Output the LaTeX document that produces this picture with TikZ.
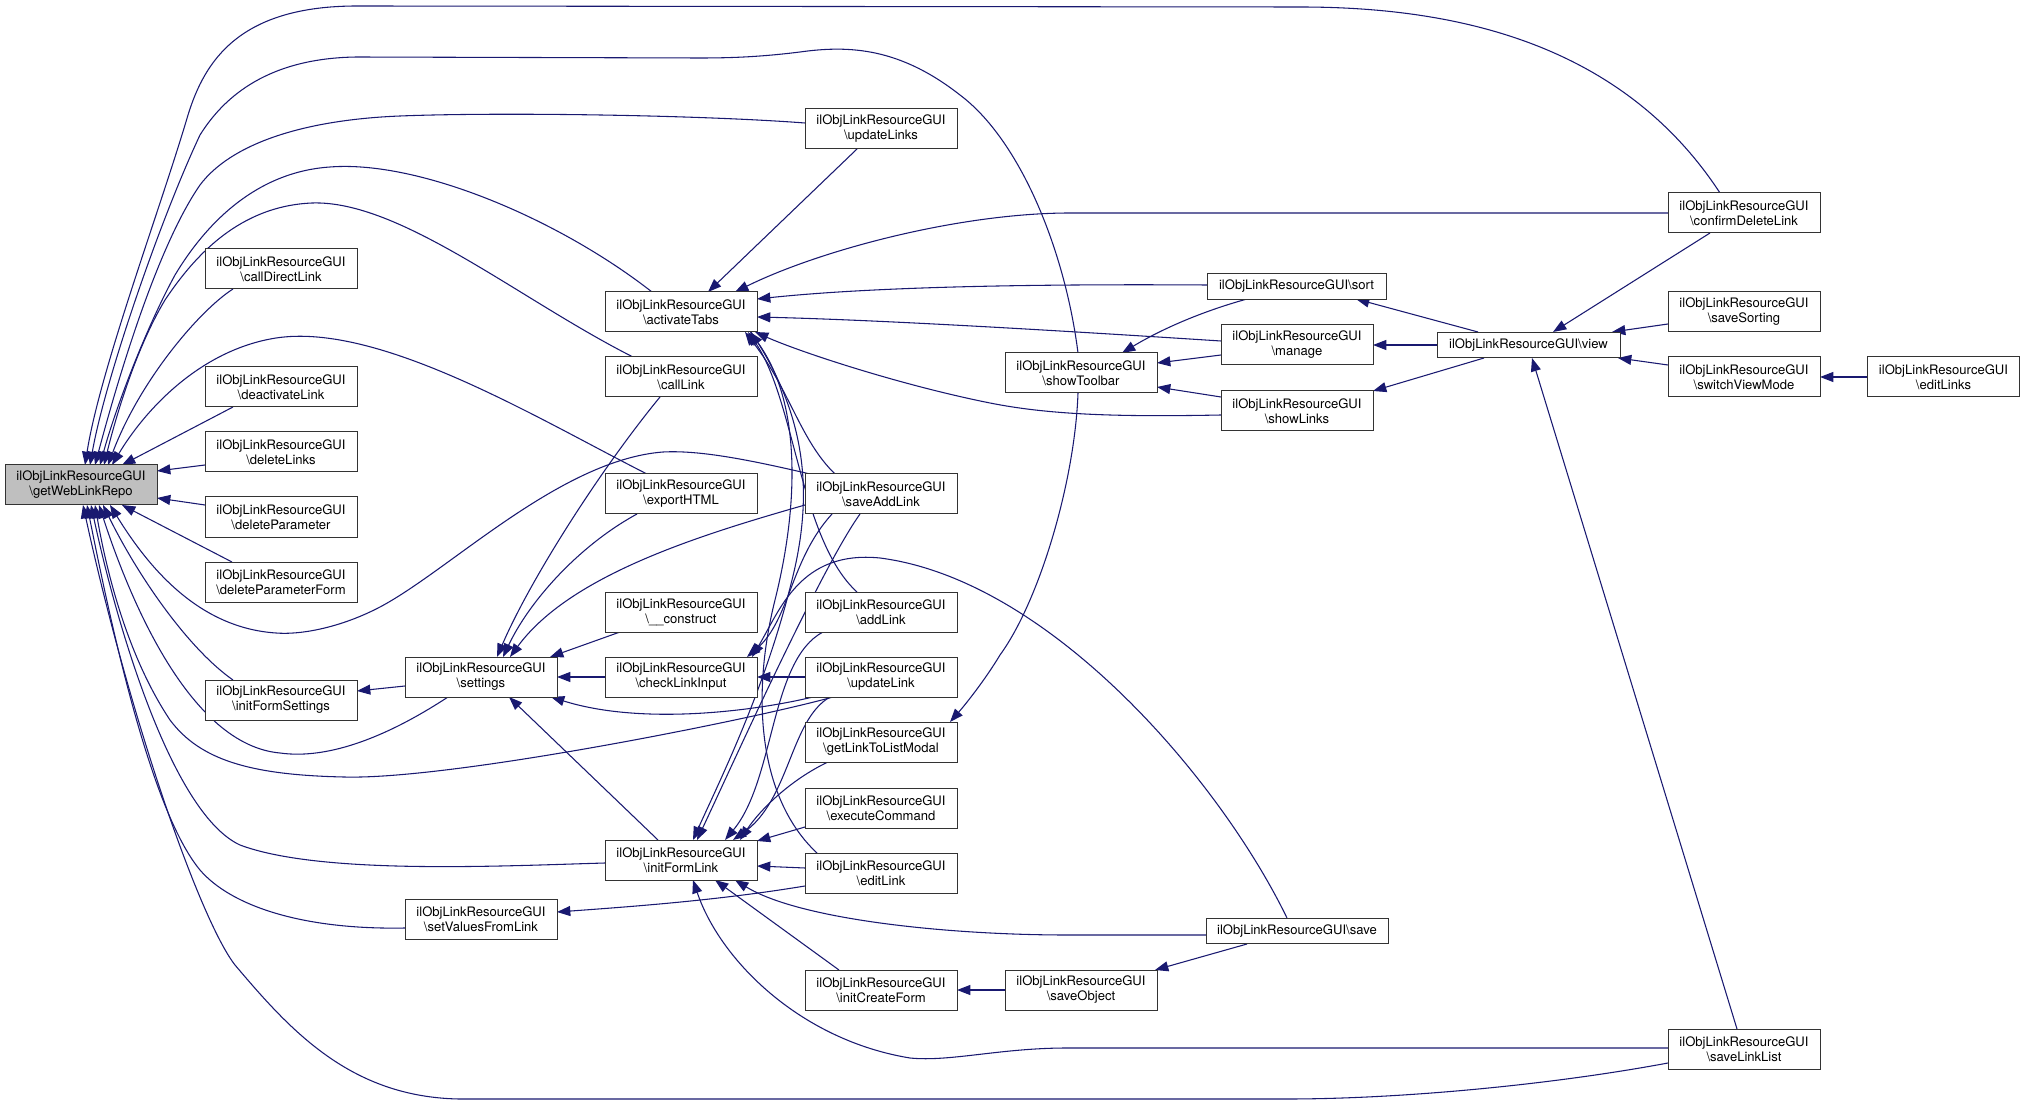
\documentclass[tikz,border=0pt]{standalone}
\usepackage{fontspec}
\setmainfont{TeX Gyre Heros}
\usetikzlibrary{arrows.meta,calc}
\definecolor{navy}{HTML}{191970}
\definecolor{boxgray}{HTML}{BFBFBF}
\pgfdeclarelayer{bg}
\pgfsetlayers{bg,main}
\tikzset{
  box/.style={draw=black!80, fill=white, line width=0.75pt, minimum width=114pt, minimum height=30pt,
    inner sep=0pt, align=center, font=\fontsize{9.8pt}{11.25pt}\selectfont},
  onebox/.style={box, minimum height=19pt},
  conn/.style={draw=navy, line width=0.8pt, -{Triangle[length=10pt,width=7.5pt]}},
  plain/.style={draw=navy, line width=0.8pt}
}
\newcommand{\fn}[1]{ilObjLinkResourceGUI\\\textbackslash #1}
\begin{document}
\begin{tikzpicture}[x=0.75pt,y=-0.75pt]
\useasboundingbox (0,0) rectangle (2025,1105);
% nodes
\node[box, fill=boxgray] (gwr) at (81,485) {\fn{getWebLinkRepo}};
\node[box] (cdirect) at (281,269) {\fn{callDirectLink}};
\node[box] (deact) at (281,387) {\fn{deactivateLink}};
\node[box] (dlinks) at (281,452) {\fn{deleteLinks}};
\node[box] (dparam) at (281,517) {\fn{deleteParameter}};
\node[box] (dpform) at (281,582) {\fn{deleteParameterForm}};
\node[box] (ifs) at (281,700) {\fn{initFormSettings}};
\node[box] (settings) at (481,677) {\fn{settings}};
\node[box] (svfl) at (481,919) {\fn{setValuesFromLink}};
\node[box] (act) at (681,312) {\fn{activateTabs}};
\node[box] (calll) at (681,377) {\fn{callLink}};
\node[box] (export) at (681,494) {\fn{exportHTML}};
\node[box] (construct) at (681,612) {\fn{\_\_construct}};
\node[box] (cli) at (681,677) {\fn{checkLinkInput}};
\node[box] (ifl) at (681,860) {\fn{initFormLink}};
\node[box] (upls) at (881,129) {\fn{updateLinks}};
\node[box] (sal) at (881,494) {\fn{saveAddLink}};
\node[box] (addl) at (881,612) {\fn{addLink}};
\node[box] (upl) at (881,677) {\fn{updateLink}};
\node[box] (gltlm) at (881,742) {\fn{getLinkToListModal}};
\node[box] (exec) at (881,808) {\fn{executeCommand}};
\node[box] (editl) at (881,873) {\fn{editLink}};
\node[box] (icf) at (881,990) {\fn{initCreateForm}};
\node[box] (stb) at (1081,373) {\fn{showToolbar}};
\node[box] (sobj) at (1081,990) {\fn{saveObject}};
\node[onebox, minimum width=134.25pt] (sort) at (1296.5,286.5) {ilObjLinkResourceGUI\textbackslash sort};
\node[box] (manage) at (1297,345) {\fn{manage}};
\node[box] (showl) at (1297,411) {\fn{showLinks}};
\node[onebox, minimum width=136.5pt] (save) at (1297,931) {ilObjLinkResourceGUI\textbackslash save};
\node[onebox, minimum width=137.25pt] (view) at (1528.5,345) {ilObjLinkResourceGUI\textbackslash view};
\node[box] (cdl) at (1744,213) {\fn{confirmDeleteLink}};
\node[box] (ssort) at (1744,312) {\fn{saveSorting}};
\node[box] (svm) at (1744,377) {\fn{switchViewMode}};
\node[box] (sll) at (1744,1049) {\fn{saveLinkList}};
\node[box] (editls) at (1943.5,377) {\fn{editLinks}};

\begin{pgfonlayer}{bg}
% into getWebLinkRepo
\draw[conn] ($(cdl)+(-24,-20)$) .. controls (1620,40) and (1450,7) .. (1300,7) -- (357,6)
  .. controls (240,6) and (205,60) .. (188,115) .. controls (160,210) and (100,370) .. ($(gwr)+(4,-20)$);
\draw[conn] ($(stb)+(-3,-20)$) .. controls (1065,250) and (1020,140) .. (960,95)
  .. controls (900,48) and (850,45) .. (800,52) .. controls (760,57) and (730,58) .. (700,58) -- (357,57)
  .. controls (270,58) and (225,95) .. (200,135) .. controls (160,220) and (105,380) .. ($(gwr)+(9,-20)$);
\draw[conn] ($(upls)+(-76,-6)$) .. controls (700,115) and (500,112) .. (400,116)
  .. controls (300,120) and (230,145) .. (200,185) .. controls (155,250) and (115,390) .. ($(gwr)+(14,-20)$);
\draw[conn] ($(act)+(-29,-20)$) .. controls (560,220) and (420,160) .. (330,167)
  .. controls (255,172) and (205,225) .. (175,275) .. controls (145,330) and (115,410) .. ($(gwr)+(19,-20)$);
\draw[conn] ($(calll)+(-48,-20)$) .. controls (520,300) and (400,200) .. (312,203)
  .. controls (240,206) and (195,255) .. (165,300) .. controls (135,350) and (115,420) .. ($(gwr)+(23,-20)$);
\draw[conn] ($(cdirect)+(-48,20)$) .. controls (200,310) and (140,380) .. ($(gwr)+(27,-20)$);
\draw[conn] ($(export)+(-34,-20)$) .. controls (540,420) and (380,322) .. (276,338)
  .. controls (200,350) and (145,410) .. ($(gwr)+(31,-20)$);
\draw[conn] ($(deact)+(-48,20)$) -- ($(gwr)+(41,-20)$);
\draw[conn] ($(dlinks)+(-76,13)$) -- ($(gwr)+(76,-14)$);
\draw[conn] ($(dparam)+(-76,-12)$) -- ($(gwr)+(76,13)$);
\draw[conn] ($(dpform)+(-49,-20)$) -- ($(gwr)+(41,20)$);
\draw[conn] ($(ifs)+(-48,-20)$) .. controls (190,650) and (140,580) .. ($(gwr)+(22,20)$);
\draw[conn] ($(settings)+(-33,20)$) .. controls (390,735) and (330,760) .. (280,753)
  .. controls (190,745) and (130,600) .. ($(gwr)+(18,20)$);
\draw[conn] ($(upl)+(-48,20)$) .. controls (750,720) and (450,780) .. (344,777)
  .. controls (250,775) and (200,760) .. (170,720) .. controls (130,660) and (108,580) .. ($(gwr)+(14,20)$);
\draw[conn] ($(ifl)+(-76,3)$) .. controls (500,866) and (320,875) .. (240,845)
  .. controls (175,815) and (120,640) .. ($(gwr)+(10,20)$);
\draw[conn] ($(svfl)+(-76,9)$) .. controls (300,930) and (230,905) .. (200,870)
  .. controls (150,810) and (110,620) .. ($(gwr)+(6,20)$);
\draw[conn] ($(sll)+(-76,14)$) .. controls (1550,1085) and (1400,1099) .. (1287,1099) -- (459,1099)
  .. controls (350,1097) and (290,1030) .. (235,965) .. controls (200,920) and (130,720) .. ($(gwr)+(2,20)$);
\draw[conn] ($(sal)+(-71,-20)$) .. controls (750,460) and (700,450) .. (663,452)
  .. controls (560,460) and (450,570) .. (380,607) .. controls (340,628) and (300,635) .. (276,633)
  .. controls (200,628) and (150,570) .. ($(gwr)+(29,20)$);
% into activateTabs
\draw[conn] ($(upls)+(-24,20)$) -- ($(act)+(27,-20)$);
\draw[conn] ($(cdl)+(-76,0)$) -- (1070,213) .. controls (960,213) and (820,250) .. ($(act)+(54,-20)$);
\draw[conn] ($(sort)+(-89.5,-1.5)$) .. controls (1050,284) and (880,286) .. ($(act)+(76,-13)$);
\draw[conn] ($(manage)+(-76,-4)$) .. controls (1050,330) and (880,320) .. ($(act)+(76,5)$);
\draw[conn] ($(showl)+(-76,4)$) .. controls (1120,417) and (1050,415) .. (990,403)
  .. controls (900,385) and (800,352) .. ($(act)+(74,20)$);
\draw[conn] ($(sal)+(-46,-20)$) .. controls (800,440) and (790,390) .. ($(act)+(64,20)$);
\draw[conn] ($(addl)+(-24,-20)$) .. controls (800,540) and (795,400) .. ($(act)+(67,20)$);
\draw[conn] ($(editl)+(-64,-20)$) .. controls (760,800) and (750,700) .. (775,600)
  .. controls (800,500) and (800,400) .. ($(act)+(69,20)$);
\draw[conn] ($(act)+(70,20)$) .. controls (810,420) and (812,500) .. (792,580)
  .. controls (765,690) and (720,780) .. ($(ifl)+(12,-20)$);
% into settings
\draw[conn] ($(settings)+(-76,9)$) -- ($(ifs)+(76,-9)$);
\draw[conn] ($(calll)+(-21,20)$) .. controls (600,470) and (530,580) .. ($(settings)+(16,-20)$);
\draw[conn] ($(export)+(-44,20)$) .. controls (580,545) and (530,600) .. ($(settings)+(22,-20)$);
\draw[conn] ($(sal)+(-76,11)$) .. controls (700,535) and (570,575) .. ($(settings)+(29,-20)$);
\draw[conn] ($(construct)+(-61,20)$) -- ($(settings)+(69,-20)$);
\draw[conn] ($(cli)+(-76,0)$) -- ($(settings)+(76,0)$);
\draw[conn] ($(upl)+(-68,20)$) .. controls (750,712) and (640,725) .. ($(settings)+(70,20)$);
\draw[conn] ($(ifl)+(-23,-20)$) -- ($(settings)+(28,20)$);
% into checkLinkInput
\draw[conn] ($(upl)+(-76,0)$) -- ($(cli)+(76,0)$);
\draw[conn] ($(sal)+(-49,20)$) .. controls (790,560) and (790,620) .. ($(cli)+(66,-20)$);
\draw[conn] ($(save)+(-10,-13)$) .. controls (1220,780) and (1050,580) .. (880,558)
  .. controls (800,550) and (780,610) .. ($(cli)+(71,-20)$);
% into initFormLink
\draw[conn] ($(sal)+(-21,20)$) .. controls (820,570) and (730,770) .. ($(ifl)+(16,-20)$);
\draw[conn] ($(addl)+(-58,20)$) .. controls (770,660) and (775,780) .. ($(ifl)+(44,-20)$);
\draw[conn] ($(upl)+(-51,20)$) .. controls (790,720) and (790,800) .. ($(ifl)+(52,-20)$);
\draw[conn] ($(gltlm)+(-53,20)$) .. controls (790,780) and (760,810) .. ($(ifl)+(59,-20)$);
\draw[conn] ($(exec)+(-76,19)$) -- ($(ifl)+(76,-19)$);
\draw[conn] ($(editl)+(-76,-5)$) -- ($(ifl)+(76,6)$);
\draw[conn] ($(save)+(-91,4)$) -- (1067,935) .. controls (950,935) and (800,920) .. ($(ifl)+(54,20)$);
\draw[conn] ($(icf)+(-42,-20)$) -- ($(ifl)+(34,20)$);
\draw[conn] ($(sll)+(-76,-1)$) -- (1067,1048) .. controls (1000,1048) and (950,1062) .. (910,1058)
  .. controls (800,1040) and (720,960) .. ($(ifl)+(12,20)$);
% others
\draw[conn] ($(editl)+(-76,13)$) .. controls (720,900) and (640,906) .. ($(svfl)+(76,-7)$);
\draw[conn] ($(sort)+(-49.5,12.5)$) .. controls (1200,312) and (1160,330) .. ($(stb)+(41,-20)$);
\draw[conn] ($(manage)+(-76,10)$) -- ($(stb)+(76,-10)$);
\draw[conn] ($(showl)+(-76,-14)$) -- ($(stb)+(76,14)$);
\draw[conn] ($(view)+(-50.5,-13)$) -- ($(sort)+(59.5,12.5)$);
\draw[conn] ($(view)+(-91.5,0)$) -- ($(manage)+(76,0)$);
\draw[conn] ($(view)+(-44.5,13)$) -- ($(showl)+(76,-20)$);
\draw[conn] ($(stb)+(-3,20)$) .. controls (1075,480) and (1040,600) .. (1000,655)
  .. controls (985,680) and (965,705) .. ($(gltlm)+(69,-20)$);
\draw[conn] ($(cdl)+(-34,20)$) -- ($(view)+(24.5,-13)$);
\draw[conn] ($(ssort)+(-76,12)$) -- ($(view)+(83.5,-13)$);
\draw[conn] ($(svm)+(-76,-12)$) -- ($(view)+(89.5,13)$);
\draw[conn] ($(editls)+(-76.5,0)$) -- ($(svm)+(76,0)$);
\draw[conn] ($(sll)+(-7,-20)$) -- ($(view)+(3.5,13)$);
\draw[conn] ($(save)+(-50,13)$) -- ($(sobj)+(74,-20)$);
\draw[conn] ($(sobj)+(-76,0)$) -- ($(icf)+(76,0)$);
\end{pgfonlayer}
\end{tikzpicture}
\end{document}
